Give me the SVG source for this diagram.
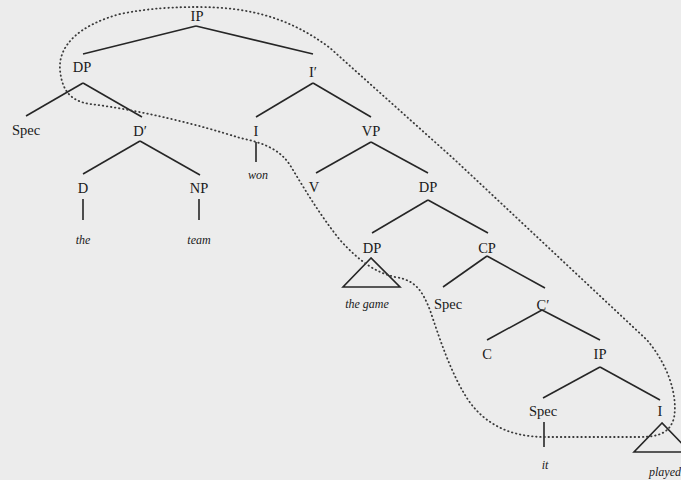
<svg xmlns="http://www.w3.org/2000/svg" width="681" height="480" viewBox="0 0 681 480">
<style>
.l{font-family:"Liberation Serif","DejaVu Serif",serif;font-size:14.5px;fill:#1a1a1a;text-anchor:middle}
.w{font-family:"Liberation Serif","DejaVu Serif",serif;font-size:12px;font-style:italic;fill:#1a1a1a;text-anchor:middle}
.e line,.e polygon{stroke:#262626;stroke-width:1.6;fill:none}
.dot{fill:none;stroke:#3a3a3a;stroke-width:1.8;stroke-dasharray:0.5 3.6;stroke-linecap:round}
</style>
<rect width="681" height="480" fill="#ececec"/>
<g id="connectors" class="e">
<line x1="196" y1="26" x2="83" y2="54"/><line x1="196" y1="26" x2="313" y2="54"/>
<line x1="83" y1="83" x2="26" y2="116"/><line x1="83" y1="83" x2="142" y2="117"/>
<line x1="140" y1="141" x2="83" y2="174"/><line x1="140" y1="141" x2="200" y2="175"/>
<line x1="83" y1="199" x2="83" y2="220"/><line x1="199" y1="199" x2="199" y2="220"/>
<line x1="313" y1="83" x2="256" y2="117"/><line x1="313" y1="83" x2="371" y2="117"/>
<line x1="256" y1="142" x2="256" y2="162"/>
<line x1="371" y1="142" x2="316" y2="173"/><line x1="371" y1="142" x2="428" y2="173"/>
<line x1="428" y1="200" x2="372" y2="233"/><line x1="428" y1="200" x2="488" y2="233"/>
<polygon points="371,258 343,287 400,287"/>
<line x1="487" y1="256" x2="443" y2="287"/><line x1="487" y1="256" x2="545" y2="288"/>
<line x1="542" y1="310" x2="487" y2="340"/><line x1="542" y1="310" x2="600" y2="340"/>
<line x1="600" y1="367" x2="543" y2="398"/><line x1="600" y1="367" x2="660" y2="400"/>
<line x1="544" y1="422" x2="544" y2="447"/>
<polygon points="662,423 634,452 690,452"/>
</g>
<path class="dot" d="M197 7 C250 7 290 18 330 48 L455 160 L647 340 C668 365 678 395 674 418 C670 432 660 437 640 437 L545 437 C505 437 480 420 465 395 C450 370 440 340 430 310 C422 290 415 280 395 277 C375 272 360 262 340 240 C320 215 305 190 290 165 C280 150 265 143 240 138 C200 125 140 110 90 104 C70 101 62 90 60 70 C58 45 80 25 120 14 C150 8 175 7 197 7 Z"/>
<g id="n-IP"><text class="l" x="197" y="21">IP</text></g>
<g id="n-DP1"><text class="l" x="82" y="72">DP</text></g>
<g id="n-Ibar"><text class="l" x="313" y="77">I′</text></g>
<g id="n-Spec1"><text class="l" x="26" y="135">Spec</text></g>
<g id="n-Dbar"><text class="l" x="140" y="136">D′</text></g>
<g id="n-I1"><text class="l" x="256" y="136">I</text></g>
<g id="n-VP"><text class="l" x="371" y="136">VP</text></g>
<g id="n-won"><text class="w" x="258" y="179">won</text></g>
<g id="n-D"><text class="l" x="83" y="193">D</text></g>
<g id="n-NP"><text class="l" x="199" y="193">NP</text></g>
<g id="n-V"><text class="l" x="314" y="192">V</text></g>
<g id="n-DP2"><text class="l" x="428" y="192">DP</text></g>
<g id="n-the"><text class="w" x="83" y="244">the</text></g>
<g id="n-team"><text class="w" x="199" y="244">team</text></g>
<g id="n-DP3"><text class="l" x="372" y="253">DP</text></g>
<g id="n-CP"><text class="l" x="487" y="253">CP</text></g>
<g id="n-thegame"><text class="w" x="367" y="308">the game</text></g>
<g id="n-Spec2"><text class="l" x="448" y="309">Spec</text></g>
<g id="n-Cbar"><text class="l" x="543" y="310">C′</text></g>
<g id="n-C"><text class="l" x="487" y="359">C</text></g>
<g id="n-IP2"><text class="l" x="600" y="359">IP</text></g>
<g id="n-Spec3"><text class="l" x="543" y="416">Spec</text></g>
<g id="n-I2"><text class="l" x="660" y="416">I</text></g>
<g id="n-it"><text class="w" x="545" y="469">it</text></g>
<g id="n-played"><text class="w" x="665" y="476">played</text></g>
</svg>
